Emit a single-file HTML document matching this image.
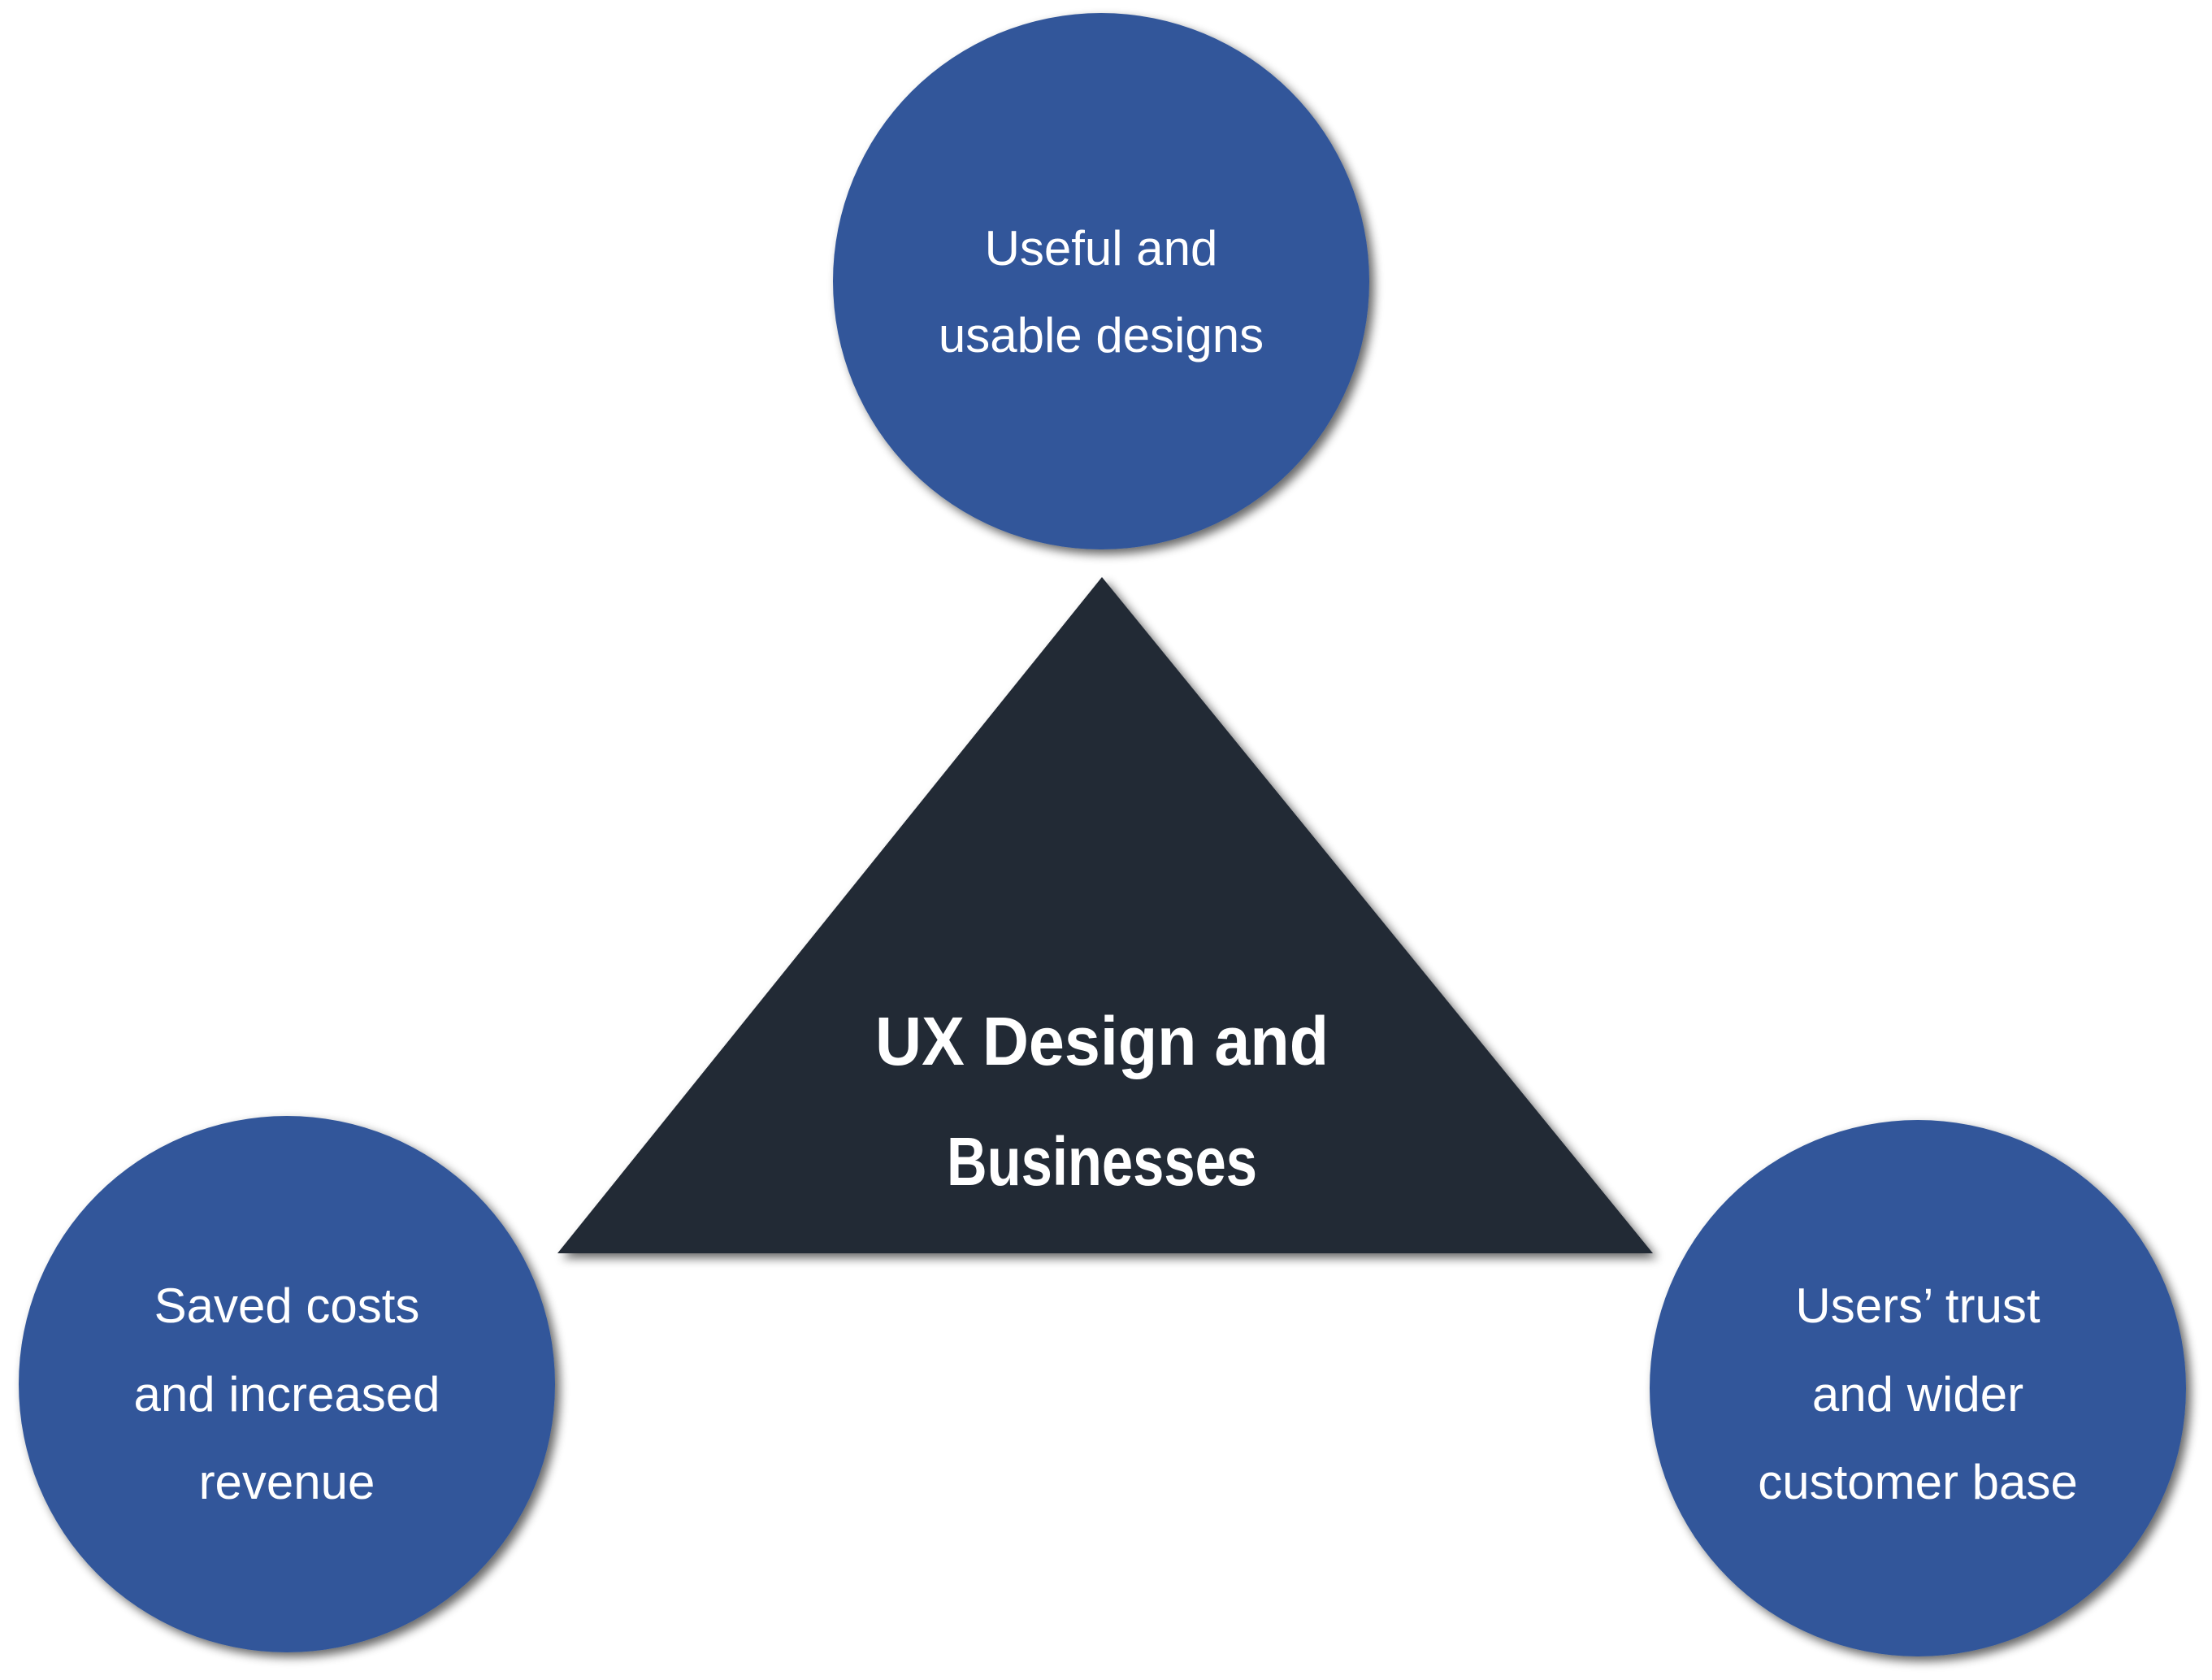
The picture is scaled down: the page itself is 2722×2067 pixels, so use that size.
<!DOCTYPE html>
<html><head><meta charset="utf-8"><style>html,body{margin:0;padding:0;background:#fff}svg{display:block}</style></head>
<body>
<svg width="2722" height="2067" viewBox="0 0 2722 2067" xmlns="http://www.w3.org/2000/svg">
<defs>
<filter id="sh" x="-20%" y="-20%" width="140%" height="140%">
<feGaussianBlur in="SourceAlpha" stdDeviation="6"/>
<feOffset dx="6" dy="6" result="o"/>
<feComponentTransfer><feFuncA type="linear" slope="0.6"/></feComponentTransfer>
<feMerge><feMergeNode/><feMergeNode in="SourceGraphic"/></feMerge>
</filter>
</defs>
<g filter="url(#sh)">
<circle cx="1355" cy="346" r="330" fill="#30569a"/>
<circle cx="353" cy="1703" r="330" fill="#30569a"/>
<circle cx="2360" cy="1708" r="330" fill="#30569a"/>
<polygon points="1356,710 686,1542 2034,1542" fill="#232a35"/>
</g>
<g font-family="Liberation Sans, sans-serif" fill="#fff" font-size="60" text-anchor="middle">
<text x="1355" y="326">Useful and</text>
<text x="1355" y="433">usable designs</text>
<text x="353" y="1627">Saved costs</text>
<text x="353" y="1736">and increased</text>
<text x="353" y="1844">revenue</text>
<text x="2360" y="1627">Users’ trust</text>
<text x="2360" y="1736">and wider</text>
<text x="2360" y="1844">customer base</text>
</g>
<g font-family="Liberation Sans, sans-serif" fill="#fff" font-size="84" font-weight="bold" text-anchor="middle">
<text x="1356" y="1310" textLength="558" lengthAdjust="spacingAndGlyphs">UX Design and</text>
<text x="1356" y="1458" textLength="382" lengthAdjust="spacingAndGlyphs">Businesses</text>
</g>
</svg>
</body></html>
